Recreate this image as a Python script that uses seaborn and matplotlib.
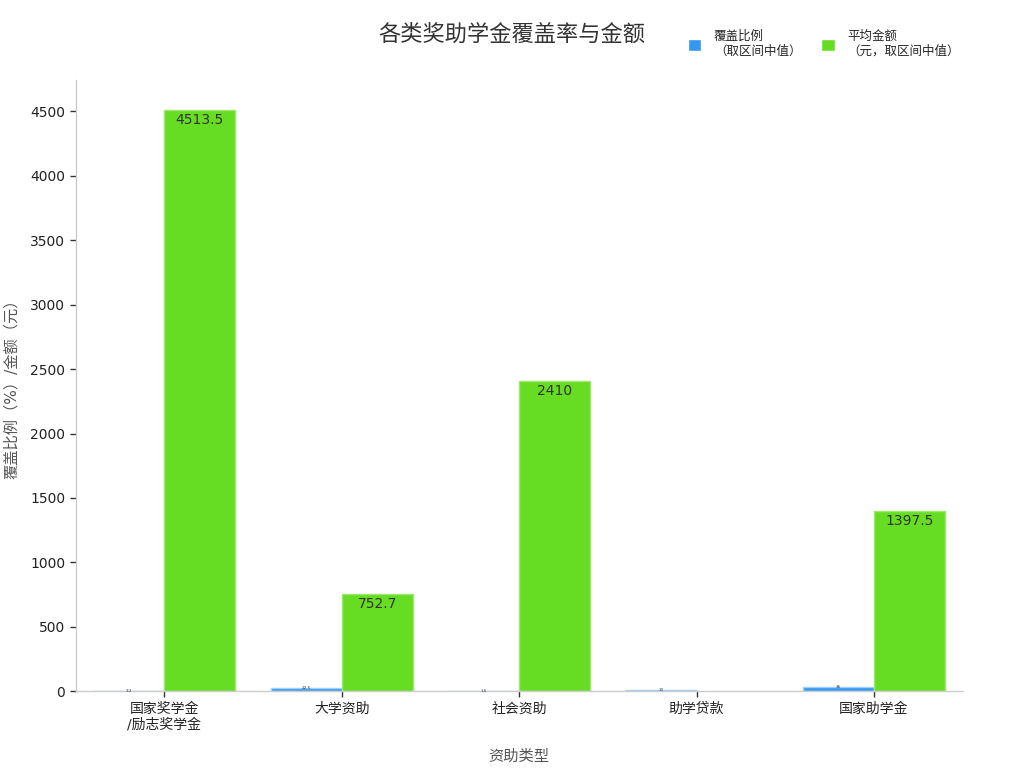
import numpy as np
import pandas as pd
import seaborn as sns
import matplotlib.pyplot as plt

categories = ["国家奖学金\n/励志奖学金", "大学资助", "社会资助", "助学贷款", "国家助学金"]
coverage = [3.2, 22.5, 1.5, 10.0, 36.0]
amount = [4513.5, 752.7, 2410, 0, 1397.5]
series = ["覆盖比例\n（取区间中值）", "平均金额\n（元，取区间中值）"]

df = pd.DataFrame({
    "类型": categories * 2,
    "系列": [series[0]] * 5 + [series[1]] * 5,
    "值": coverage + amount,
})

sns.set_theme(style="white")
plt.rcParams['font.family'] = ['DejaVu Sans', 'Noto Sans CJK SC']

fig, ax = plt.subplots(figsize=(10.24, 7.68), dpi=100)
fig.subplots_adjust(left=0.074, right=0.94, top=0.896, bottom=0.1)

palette = {series[0]: "#3399f0", series[1]: "#66dd22"}
sns.barplot(data=df, x="类型", y="值", hue="系列", palette=palette, ax=ax,
            width=0.8, saturation=1)

# light edges on the bars
for cont, ec in zip(ax.containers, ["#9fd0ff", "#9fe870"]):
    for bar in cont:
        bar.set_edgecolor(ec if bar.get_height() > 0 else "none")
        bar.set_linewidth(1)

for cont, vals, fs in zip(ax.containers, [coverage, amount], [3, 10]):
    for bar, v in zip(cont, vals):
        if v <= 0:
            continue
        lab = f"{v:g}"
        ax.text(bar.get_x() + bar.get_width() / 2, bar.get_height() - (25 if fs > 5 else 0.5),
                lab, ha="center", va="top" if fs > 5 else "center", fontsize=fs, color="#333333")

ax.set_ylim(0, 4745)
ax.set_xlim(-0.5, 4.5)
ax.set_yticks(np.arange(0, 4501, 500))
ax.tick_params(axis="both", length=4, width=1, color="#333333", labelsize=10, labelcolor="#222222", left=True, bottom=True)
sns.despine(ax=ax)
for s in ["left", "bottom"]:
    ax.spines[s].set_color("#cccccc")
    ax.spines[s].set_linewidth(1)

ax.set_xlabel("资助类型", fontsize=11, color="#555555", labelpad=12)
ax.set_ylabel("覆盖比例（%）/金额（元）", fontsize=11, color="#555555", labelpad=8)
fig.suptitle("各类奖助学金覆盖率与金额", fontsize=16, color="#333333", x=0.5, y=0.97)

ax.legend(loc="upper right", bbox_to_anchor=(1.01, 1.1), ncol=2, frameon=False,
          fontsize=9, handlelength=1.1, handleheight=1.1, handletextpad=1.0, columnspacing=1.6)

fig.savefig("out.png", dpi=100)
